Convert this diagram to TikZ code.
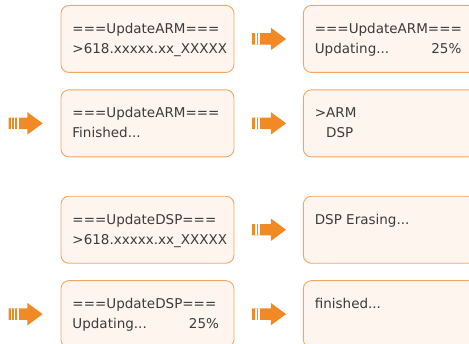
\documentclass[tikz,border=0pt]{standalone}
\usepackage{fontspec}
\setmainfont{DejaVu Sans}
\usetikzlibrary{positioning,shapes.arrows}
\definecolor{Frame}{HTML}{F6A55F}
\definecolor{Cream}{HTML}{FDF5EE}
\definecolor{Flow}{HTML}{F18A24}
\definecolor{Ink}{HTML}{3C3C3C}
% text area of one display screen, first baseline fixed near the top
\newcommand{\lcd}[1]{\parbox[c][67pt][t]{173pt}{\leftskip=11.5pt\rightskip=15pt\rule{0pt}{28pt}#1}}

\begin{document}
\begin{tikzpicture}[
    x=1pt, y=-1pt,
    node distance=16.5pt and 68.5pt,
    screen/.style={
      draw=Frame, line width=0.9pt, fill=Cream, rounded corners=8pt,
      inner sep=0pt, minimum width=173pt, minimum height=67pt,
      text=Ink, font=\fontsize{13.5}{20}\selectfont
    },
    flowarrow/.style={
      single arrow, fill=Flow, draw=none, inner xsep=0pt, inner ysep=5.5pt,
      minimum height=34pt,
      single arrow head extend=5.5pt, single arrow tip angle=72.6
    },
    stripes/.style={path picture={
      \foreach \g in {#1}
        \fill[white] ([xshift=\g pt]path picture bounding box.south west)
          rectangle ([xshift=\g pt+1.3pt]path picture bounding box.north west);
    }}
  ]
    \clip (0,0) rectangle (469,344);
    % ARM update
    \node[screen, anchor=north west] (armver) at (60.5,5) {\lcd{===UpdateARM===\\>618.xxxxx.xx\_XXXXX}};
    \node[screen, right=of armver] (armprog) {\lcd{===UpdateARM===\\Updating...\hfill 25\%}};
    \node[screen, below=of armver] (armdone) {\lcd{===UpdateARM===\\Finished...}};
    \node[screen, right=of armdone] (armsel) {\lcd{>ARM\\\phantom{>}DSP}};
    % DSP update
    \node[screen, below=38.5pt of armdone] (dspver) {\lcd{===UpdateDSP===\\>618.xxxxx.xx\_XXXXX}};
    \node[screen, right=of dspver] (dsperase) {\lcd{DSP Erasing...}};
    \node[screen, below=of dspver] (dspprog) {\lcd{===UpdateDSP===\\Updating...\hfill 25\%}};
    \node[screen, right=of dspprog] (dspdone) {\lcd{finished...}};
    % arrows
    \node[flowarrow, stripes={3.3,6.3}, right=17.5pt of armver] (go1) {};
    \node[flowarrow, stripes={3.3,6.3}, right=17.5pt of armdone] (go2) {};
    \node[flowarrow, stripes={3.3,6.3}, right=17.5pt of dspver] (go3) {};
    \node[flowarrow, stripes={3.3,6.3}, right=17.5pt of dspprog] (go4) {};
    \node[flowarrow, stripes={2,5.3,8.7}, left=17.5pt of armdone] (back1) {};
    \node[flowarrow, stripes={2,5.3,8.7}, left=17.5pt of dspprog] (back2) {};
  \end{tikzpicture}
\end{document}
